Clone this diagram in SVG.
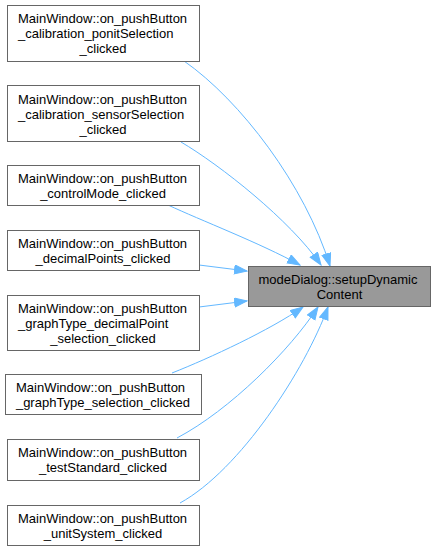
<svg xmlns="http://www.w3.org/2000/svg" width="436" height="551" viewBox="0 0 436 551">
<style>
.box{fill:#ffffff;stroke:#666666;stroke-width:1}
.tgt{fill:#999999;stroke:#666666;stroke-width:1}
text{font-family:"Liberation Sans",Arial,Helvetica,sans-serif;font-size:13px;fill:#000000}
.m{text-anchor:middle}
.edge{fill:none;stroke:#63b8ff;stroke-width:1}
</style>
<defs>
<marker id="arr" markerUnits="userSpaceOnUse" markerWidth="14" markerHeight="11" refX="13" refY="5" orient="auto">
<path d="M0.5,0.5 L13,5 L0.5,9.5 z" fill="#63b8ff" stroke="#63b8ff" stroke-width="1"/>
</marker>
</defs>
<g id="connectors">
<path class="edge" marker-end="url(#arr)" d="M184,61 C240,100 305,185 330,266"/>
<path class="edge" marker-end="url(#arr)" d="M181,142 C220,165 290,220 321,265"/>
<path class="edge" marker-end="url(#arr)" d="M168,205 C200,220 260,243 300,265"/>
<path class="edge" marker-end="url(#arr)" d="M199,265 L247,271"/>
<path class="edge" marker-end="url(#arr)" d="M199,307 L247,301"/>
<path class="edge" marker-end="url(#arr)" d="M172,373 C210,358 270,330 303,307"/>
<path class="edge" marker-end="url(#arr)" d="M177,438 C230,410 290,350 318,307"/>
<path class="edge" marker-end="url(#arr)" d="M180,503 C240,470 305,370 328,307"/>
</g>
<g id="n_target">
<rect class="tgt" x="248.5" y="266.5" width="182" height="40"/>
<text x="258.5" y="284">modeDialog::setupDynamic</text>
<text class="m" x="339.5" y="299">Content</text>
</g>
<g id="n1">
<rect class="box" x="7.5" y="5.5" width="192" height="56"/>
<text x="18" y="23">MainWindow::on_pushButton</text>
<text x="18" y="38">_calibration_ponitSelection</text>
<text class="m" x="103" y="53">_clicked</text>
</g>
<g id="n2">
<rect class="box" x="7.5" y="85.5" width="192" height="56"/>
<text x="18" y="103.5">MainWindow::on_pushButton</text>
<text x="18" y="118.5">_calibration_sensorSelection</text>
<text class="m" x="103" y="133.5">_clicked</text>
</g>
<g id="n3">
<rect class="box" x="7.5" y="165.5" width="192" height="40"/>
<text x="18" y="182.5">MainWindow::on_pushButton</text>
<text class="m" x="103" y="197.5">_controlMode_clicked</text>
</g>
<g id="n4">
<rect class="box" x="7.5" y="230.5" width="192" height="40"/>
<text x="18" y="247.5">MainWindow::on_pushButton</text>
<text class="m" x="103" y="262.5">_decimalPoints_clicked</text>
</g>
<g id="n5">
<rect class="box" x="7.5" y="295.5" width="192" height="55"/>
<text x="18" y="312.5">MainWindow::on_pushButton</text>
<text x="18" y="327.5">_graphType_decimalPoint</text>
<text class="m" x="103" y="342.5">_selection_clicked</text>
</g>
<g id="n6">
<rect class="box" x="5.5" y="374.5" width="196" height="40"/>
<text x="16" y="391.5">MainWindow::on_pushButton</text>
<text class="m" x="103" y="406.5">_graphType_selection_clicked</text>
</g>
<g id="n7">
<rect class="box" x="7.5" y="439.5" width="192" height="41"/>
<text x="18" y="457">MainWindow::on_pushButton</text>
<text class="m" x="103" y="472">_testStandard_clicked</text>
</g>
<g id="n8">
<rect class="box" x="7.5" y="505.5" width="192" height="40"/>
<text x="18" y="522.5">MainWindow::on_pushButton</text>
<text class="m" x="103" y="537.5">_unitSystem_clicked</text>
</g>
</svg>
